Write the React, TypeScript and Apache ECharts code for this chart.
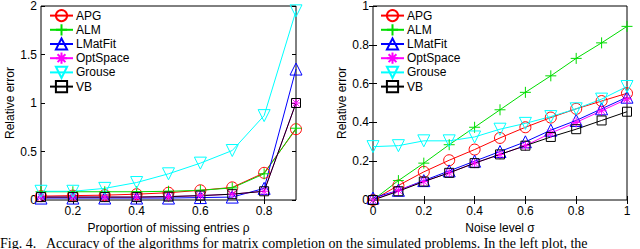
import React, { useEffect, useRef } from "react";
import * as echarts from "echarts";

const seriesNames = ["APG", "ALM", "LMatFit", "OptSpace", "Grouse", "VB"];
const seriesColors = ["#ff0000", "#00dd00", "#0000ff", "#ff00ff", "#00ffff", "#000000"];

// Left plot: proportion of missing entries
const rhoValues = [0.1, 0.2, 0.3, 0.4, 0.5, 0.6, 0.7, 0.8, 0.9];
const leftAPG = [0.04, 0.045, 0.05, 0.06, 0.075, 0.1, 0.13, 0.28, 0.73];
const leftALM = [0.085, 0.085, 0.085, 0.085, 0.09, 0.1, 0.125, 0.27, 0.74];
const leftLMatFit = [0.02, 0.02, 0.02, 0.02, 0.02, 0.025, 0.03, 0.12, 1.35];
const leftOptSpace = [0.03, 0.03, 0.03, 0.03, 0.035, 0.045, 0.06, 0.09, 1.0];
const leftGrouse = [0.09, 0.09, 0.12, 0.18, 0.27, 0.38, 0.51, 0.87, 1.95];
const leftVB = [0.03, 0.03, 0.03, 0.03, 0.035, 0.045, 0.06, 0.09, 1.0];

// Right plot: noise level
const sigmaValues = [0, 0.1, 0.2, 0.3, 0.4, 0.5, 0.6, 0.7, 0.8, 0.9, 1.0];
const rightAPG = [0, 0.075, 0.145, 0.205, 0.26, 0.32, 0.375, 0.425, 0.47, 0.51, 0.55];
const rightALM = [0, 0.1, 0.19, 0.285, 0.375, 0.465, 0.555, 0.64, 0.73, 0.81, 0.895];
const rightLMatFit = [0.01, 0.05, 0.1, 0.15, 0.2, 0.25, 0.3, 0.36, 0.41, 0.47, 0.53];
const rightOptSpace = [0, 0.05, 0.095, 0.14, 0.19, 0.235, 0.28, 0.345, 0.4, 0.46, 0.52];
const rightGrouse = [0.275, 0.28, 0.305, 0.305, 0.325, 0.365, 0.395, 0.43, 0.47, 0.52, 0.585];
const rightVB = [0, 0.045, 0.095, 0.14, 0.19, 0.235, 0.28, 0.325, 0.365, 0.41, 0.455];

const leftXTicks = [0.2, 0.4, 0.6, 0.8];
const leftXLabel = "Proportion of missing entries ρ";
const rightXLabel = "Noise level σ";
const yLabel = "Relative error";
const caption =
  "Fig. 4.   Accuracy of the algorithms for matrix completion on the simulated problems. In the left plot, the";

const symbols = [
  "circle",
  "path://M1,0L1,2M0,1L2,1",
  "triangle",
  "path://M1,0L1,2M0,1L2,1M0.3,0.3L1.7,1.7M0.3,1.7L1.7,0.3",
  "path://M0,0L2,0L1,1.8Z",
  "rect",
];
const symbolSizes = [11, 11, 12, 10, 12, 9];

const FONT = "Liberation Sans, Arial, sans-serif";

export default function App() {
  const ref = useRef<HTMLDivElement>(null);
  useEffect(() => {
    if (!ref.current) return;
    const chart = echarts.init(ref.current, undefined, { renderer: "svg" });
    const leftData = [leftAPG, leftALM, leftLMatFit, leftOptSpace, leftGrouse, leftVB];
    const rightData = [rightAPG, rightALM, rightLMatFit, rightOptSpace, rightGrouse, rightVB];

    const mkSeries = (data: number[][], xs: number[], gi: number) =>
      seriesNames.map((name, i) => ({
        type: "line",
        name,
        xAxisIndex: gi * 2,
        yAxisIndex: gi * 2,
        data: xs.map((x, k) => [x, data[i][k]]),
        symbol: symbols[i],
        symbolSize: symbolSizes[i],
        showAllSymbol: true,
        clip: false,
        lineStyle: { color: seriesColors[i], width: 1 },
        itemStyle: { color: "rgba(0,0,0,0)", borderColor: seriesColors[i], borderWidth: 1 },
        emphasis: { disabled: true },
      }));

    const tickStyle = { inside: true, length: 4, lineStyle: { color: "#000", width: 1 } };
    const labelStyle = { color: "#000", fontSize: 12, fontFamily: FONT };
    const nameStyle = { color: "#000", fontSize: 12, fontFamily: FONT };

    const xAxisPair = (gi: number, min: number, max: number, interval: number, name: string, custom?: number[]) => [
      {
        type: "value",
        gridIndex: gi,
        position: "bottom",
        min,
        max,
        interval,
        name,
        nameLocation: "middle",
        nameGap: 22,
        nameTextStyle: nameStyle,
        axisLine: { show: false },
        axisTick: custom ? { ...tickStyle, customValues: custom } : tickStyle,
        axisLabel: custom ? { ...labelStyle, margin: 5, customValues: custom } : { ...labelStyle, margin: 5 },
        splitLine: { show: false },
      },
      {
        type: "value",
        gridIndex: gi,
        position: "top",
        min,
        max,
        interval,
        axisLine: { show: false },
        axisTick: custom ? { ...tickStyle, customValues: custom } : tickStyle,
        axisLabel: { show: false },
        splitLine: { show: false },
      },
    ];
    const yAxisPair = (gi: number, min: number, max: number, interval: number) => [
      {
        type: "value",
        gridIndex: gi,
        position: "left",
        min,
        max,
        interval,
        name: yLabel,
        nameLocation: "middle",
        nameGap: 25,
        nameTextStyle: nameStyle,
        axisLine: { show: false },
        axisTick: tickStyle,
        axisLabel: { ...labelStyle, margin: 4 },
        splitLine: { show: false },
      },
      {
        type: "value",
        gridIndex: gi,
        position: "right",
        min,
        max,
        interval,
        axisLine: { show: false },
        axisTick: tickStyle,
        axisLabel: { show: false },
        splitLine: { show: false },
      },
    ];

    const legendCommon = {
      data: seriesNames,
      orient: "vertical",
      top: 9,
      itemWidth: 23,
      itemHeight: 14,
      itemGap: 1,
      textStyle: { color: "#000", fontSize: 12, fontFamily: FONT, padding: [0, 0, 0, -2] },
      selectedMode: false,
      padding: 0,
    };

    chart.setOption({
      animation: false,
      backgroundColor: "#fff",
      grid: [
        { left: 41, top: 4, width: 255, height: 196, show: true, borderColor: "#000", borderWidth: 1, backgroundColor: "transparent" },
        { left: 373, top: 4, width: 254, height: 196, show: true, borderColor: "#000", borderWidth: 1, backgroundColor: "transparent" },
      ],
      xAxis: [
        ...xAxisPair(0, 0.1, 0.9, 0.2, leftXLabel, leftXTicks),
        ...xAxisPair(1, 0, 1, 0.2, rightXLabel),
      ],
      yAxis: [...yAxisPair(0, 0, 2, 0.5), ...yAxisPair(1, 0, 1, 0.2)],
      legend: [
        { ...legendCommon, left: 49 },
        { ...legendCommon, left: 380 },
      ],
      series: [...mkSeries(leftData, rhoValues, 0), ...mkSeries(rightData, sigmaValues, 1)],
      graphic: [
        {
          type: "text",
          left: 0,
          top: 236,
          style: { text: caption, font: "14px 'Liberation Serif', serif", fill: "#000" },
        },
      ],
    });
    return () => chart.dispose();
  }, []);
  return <div ref={ref} style={{ position: "fixed", left: 0, top: 0, width: 640, height: 249 }} />;
}
